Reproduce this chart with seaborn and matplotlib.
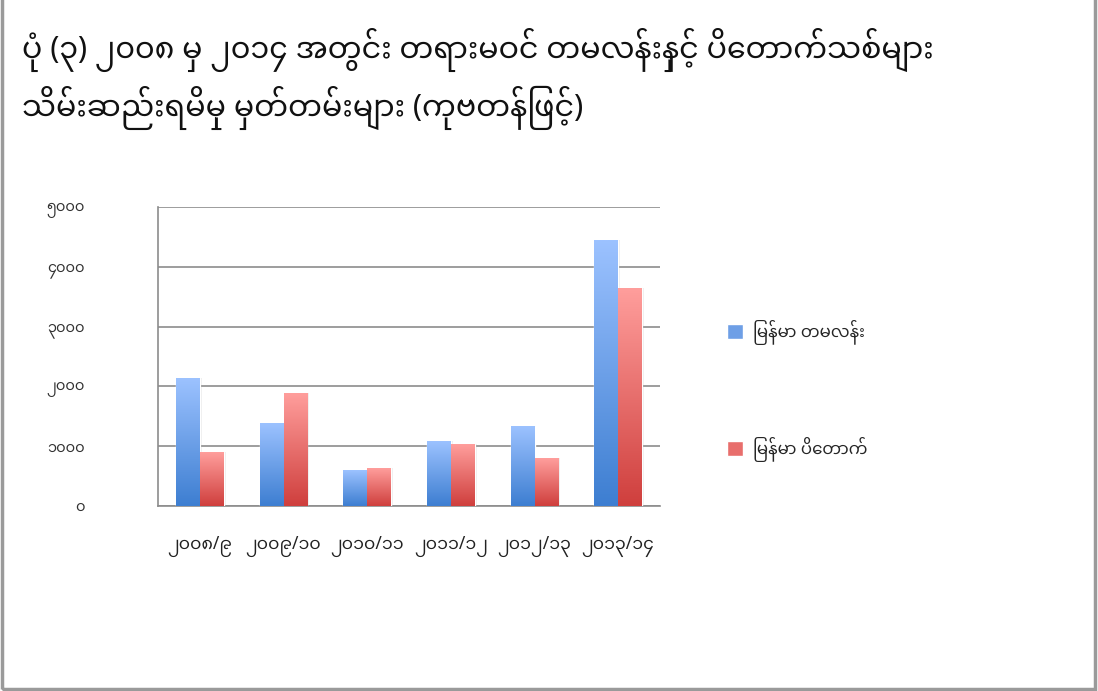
import numpy as np
import pandas as pd
import matplotlib
matplotlib.use("Agg")
import matplotlib.pyplot as plt
import seaborn as sns
from matplotlib.colors import LinearSegmentedColormap
from matplotlib.patches import Rectangle, Patch

# data (cubic tons)
years = ["၂၀၀၈/၉", "၂၀၀၉/၁၀", "၂၀၁၀/၁၁", "၂၀၁၁/၁၂", "၂၀၁၂/၁၃", "၂၀၁၃/၁၄"]
series = ["မြန်မာ တမလန်း", "မြန်မာ ပိတောက်"]
tamalan = [2135, 1380, 590, 1080, 1330, 4445]
padauk = [900, 1890, 630, 1030, 795, 3640]
ytick_vals = [0, 1000, 2000, 3000, 4000, 5000]
ytick_labels = ["၀", "၁၀၀၀", "၂၀၀၀", "၃၀၀၀", "၄၀၀၀", "၅၀၀၀"]
title = ("ပုံ (၃) ၂၀၀၈ မှ ၂၀၁၄ အတွင်း တရားမဝင် တမလန်းနှင့် ပိတောက်သစ်များ\n"
         "သိမ်းဆည်းရမိမှု မှတ်တမ်းများ (ကုဗတန်ဖြင့်)")


def visual(s):
    # matplotlib does no Myanmar shaping, so put the pre-base vowel E
    # and medial RA in front of their consonant for display
    res = []
    base = 0
    prev = ""
    for ch in s:
        o = ord(ch)
        if ch in ("\u1031", "\u103C"):
            res.insert(base, ch)
        else:
            if not (0x102B <= o <= 0x103E) and prev != "\u1039":
                base = len(res)
            res.append(ch)
        prev = ch
    return "".join(res)


sns.set_style("white")
plt.rcParams["font.family"] = ["Noto Sans Myanmar", "DejaVu Sans"]

df = pd.DataFrame({
    "year": years * 2,
    "series": [series[0]] * len(years) + [series[1]] * len(years),
    "value": tamalan + padauk,
})

fig = plt.figure(figsize=(10.98, 6.91), dpi=100)
ax = fig.add_axes([0.1439, 0.268, 0.4572, 0.432])

blue_mid, red_mid = "#6E9FE6", "#E86E6C"
sns.barplot(data=df, x="year", y="value", hue="series", order=years,
            hue_order=series, palette=[blue_mid, red_mid], width=0.57,
            errorbar=None, legend=False, ax=ax, zorder=3)

cm_blue = LinearSegmentedColormap.from_list("b", ["#3D7ED1", "#9CC2FF"])
cm_red = LinearSegmentedColormap.from_list("r", ["#CF3F3D", "#FF9E9C"])
grad = np.linspace(0, 1, 256).reshape(-1, 1)
for i, p in enumerate(list(ax.patches)):
    x0, y0, w, h = p.get_x(), p.get_y(), p.get_width(), p.get_height()
    cm = cm_blue if i < len(years) else cm_red
    # soft shadow on the right
    ax.add_patch(Rectangle((x0 + w * 0.08, y0), w, h, facecolor="#000000",
                           alpha=0.07, edgecolor="none", zorder=2.5))
    ax.imshow(grad, extent=[x0, x0 + w, y0, y0 + h], origin="lower",
              aspect="auto", cmap=cm, zorder=3.5)

ax.set_xlim(-0.5, len(years) - 0.5)
ax.set_ylim(0, 5000)
ax.set_xlabel("")
ax.set_ylabel("")

ax.set_yticks(ytick_vals)
ax.set_yticklabels(ytick_labels, fontsize=10.5, color="#333333")
ax.yaxis.grid(True, color="#8c8c8c", linewidth=1.2, zorder=1)
ax.set_axisbelow(True)
ax.tick_params(axis="y", length=9.5, width=1.2, color="#8c8c8c", pad=43)

ax.set_xticks(range(len(years)))
ax.set_xticklabels(years, fontsize=12.5, color="#222222")
ax.set_xticks(np.arange(-0.5, len(years)), minor=True)
ax.tick_params(axis="x", which="major", length=0, pad=22)
ax.tick_params(axis="x", which="minor", length=7, width=1.2, color="#8c8c8c")

for s in ["top", "right"]:
    ax.spines[s].set_visible(False)
for s in ["left", "bottom"]:
    ax.spines[s].set_color("#8c8c8c")
    ax.spines[s].set_linewidth(1.2)

handles = [Patch(facecolor=blue_mid), Patch(facecolor=red_mid)]
fig.legend(handles, [visual(s) for s in series], loc="upper left",
           bbox_to_anchor=(0.648, 0.558), frameon=False, fontsize=12,
           labelspacing=5.5, handlelength=1.0, handleheight=1.0,
           handletextpad=0.6)

fig.text(0.02, 0.96, visual(title), fontsize=21.7, va="top", ha="left",
         linespacing=1.45, color="#111111")

# slide border
fig.patches.append(Rectangle((0.002, 0.003), 0.995, 1.2, transform=fig.transFigure,
                             fill=False, edgecolor="#9a9a9a", linewidth=2.5))

fig.savefig("out.png", dpi=100)
